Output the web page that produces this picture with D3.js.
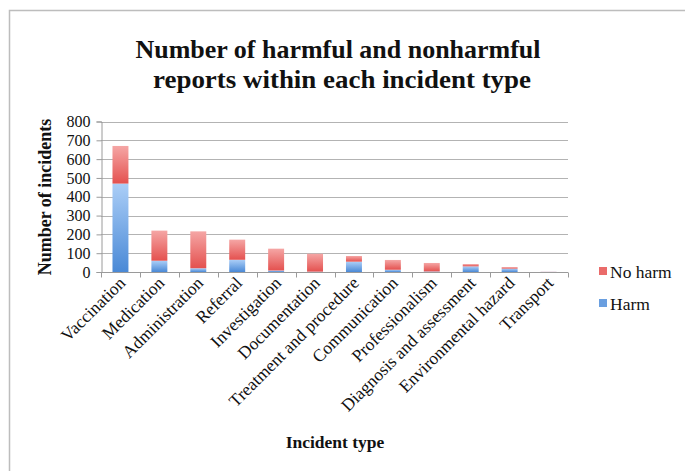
<!DOCTYPE html>
<html>
<head>
<meta charset="utf-8">
<script src="https://cdn.jsdelivr.net/npm/d3@7"></script>
<style>
  html, body { margin: 0; padding: 0; background: #fff; }
  svg { display: block; }
</style>
</head>
<body>
<svg id="chart" width="685" height="471"></svg>
<script>
// Incident types and report counts per harm outcome
const categories = [
  "Vaccination", "Medication", "Administration", "Referral", "Investigation",
  "Documentation", "Treatment and procedure", "Communication", "Professionalism",
  "Diagnosis and assessment", "Environmental hazard", "Transport"
];
const harm   = [470, 60, 20, 65, 8, 2, 55, 12, 3, 30, 18, 1];
const noHarm = [200, 160, 196, 107, 116, 95, 30, 52, 45, 12, 8, 1];
const seriesNames = ["Harm", "No harm"];
const yTicks = [0, 100, 200, 300, 400, 500, 600, 700, 800];

const svg = d3.select("#chart");
const serif = "'Liberation Serif', 'DejaVu Serif', serif";

// Outer chart frame
svg.append("rect")
  .attr("x", 9.5).attr("y", 10.5)
  .attr("width", 700).attr("height", 500)
  .attr("fill", "#fff").attr("stroke", "#bdbdbd").attr("stroke-width", 1.5);

// Vertical gradients for the bar fills
const defs = svg.append("defs");
function grad(id, top, bottom) {
  const g = defs.append("linearGradient").attr("id", id)
    .attr("x1", 0).attr("y1", 0).attr("x2", 0).attr("y2", 1);
  g.append("stop").attr("offset", "0%").attr("stop-color", top);
  g.append("stop").attr("offset", "100%").attr("stop-color", bottom);
}
grad("gHarm", "#abcef7", "#4a89d6");
grad("gNoHarm", "#f5a6a5", "#e4514f");
const fills = { "Harm": "url(#gHarm)", "No harm": "url(#gNoHarm)" };
const swatch = { "Harm": "#6a9fe0", "No harm": "#ea6b6a" };

const plot = { left: 101, right: 568, top: 121.5, bottom: 272 };

const x = d3.scaleBand().domain(categories)
  .range([plot.left, plot.right]).paddingInner(0.59).paddingOuter(0.295);
const y = d3.scaleLinear().domain([0, 800]).range([plot.bottom, plot.top]);

// Horizontal gridlines
svg.append("g").selectAll("line").data(yTicks.filter(d => d > 0)).join("line")
  .attr("x1", plot.left).attr("x2", plot.right)
  .attr("y1", d => Math.round(y(d)) + 0.5).attr("y2", d => Math.round(y(d)) + 0.5)
  .attr("stroke", "#b3b3b3").attr("stroke-width", 1.2);

// Stacked bars
const rows = categories.map((c, i) => ({ cat: c, "Harm": harm[i], "No harm": noHarm[i] }));
const stacked = d3.stack().keys(seriesNames)(rows);
svg.append("g").selectAll("g").data(stacked).join("g")
  .attr("fill", d => fills[d.key])
  .selectAll("rect").data(d => d).join("rect")
  .attr("x", d => x(d.data.cat))
  .attr("width", x.bandwidth())
  .attr("y", d => y(d[1]))
  .attr("height", d => Math.max(0, y(d[0]) - y(d[1])));

// Y axis
const yAxis = svg.append("g")
  .attr("transform", `translate(${plot.left + 0.5},0)`)
  .call(d3.axisLeft(y).tickValues(yTicks).tickSize(5).tickPadding(6));
yAxis.select(".domain").attr("stroke", "#9a9a9a");
yAxis.selectAll(".tick line").attr("stroke", "#9a9a9a");
yAxis.selectAll(".tick text")
  .attr("font-family", serif).attr("font-size", 16).attr("fill", "#111");

// X axis with tick marks at category boundaries
const xAxisG = svg.append("g").attr("transform", `translate(0,${plot.bottom + 0.5})`);
xAxisG.append("line").attr("x1", plot.left).attr("x2", plot.right)
  .attr("stroke", "#9a9a9a");
const step = x.step();
xAxisG.selectAll("line.tk").data(d3.range(categories.length + 1)).join("line")
  .attr("class", "tk")
  .attr("x1", i => Math.round(plot.left + i * step) + 0.5)
  .attr("x2", i => Math.round(plot.left + i * step) + 0.5)
  .attr("y1", 0).attr("y2", 5).attr("stroke", "#9a9a9a");

// Rotated category labels
svg.append("g").selectAll("text").data(categories).join("text")
  .attr("transform", d => `translate(${x(d) + x.bandwidth() / 2 + 6},${plot.bottom + 12}) rotate(-45)`)
  .attr("text-anchor", "end")
  .attr("font-family", serif).attr("font-size", 17.5).attr("fill", "#111")
  .text(d => d);

// Title (two centred lines)
const titleLines = [
  { text: "Number of harmful and nonharmful", cx: 338, y: 58, len: 405 },
  { text: "reports within each incident type", cx: 342, y: 88, len: 378 }
];
svg.append("g").selectAll("text").data(titleLines).join("text")
  .attr("x", d => d.cx).attr("y", d => d.y)
  .attr("text-anchor", "middle")
  .attr("textLength", d => d.len).attr("lengthAdjust", "spacingAndGlyphs")
  .attr("font-family", serif).attr("font-weight", "bold")
  .attr("font-size", 26).attr("fill", "#111")
  .text(d => d.text);

// Axis titles
svg.append("text")
  .attr("transform", "translate(51,197) rotate(-90)")
  .attr("text-anchor", "middle")
  .attr("font-family", serif).attr("font-weight", "bold").attr("font-size", 18)
  .attr("fill", "#111").text("Number of incidents");
svg.append("text")
  .attr("x", 335).attr("y", 448).attr("text-anchor", "middle")
  .attr("font-family", serif).attr("font-weight", "bold").attr("font-size", 17.5)
  .attr("fill", "#111").text("Incident type");

// Legend (No harm listed above Harm)
const legend = svg.append("g").selectAll("g").data(["No harm", "Harm"]).join("g")
  .attr("transform", (d, i) => `translate(599,${273 + i * 32})`);
legend.append("rect").attr("x", 0).attr("y", -6).attr("width", 8).attr("height", 8)
  .attr("fill", d => swatch[d]);
legend.append("text").attr("x", 11).attr("y", 5)
  .attr("font-family", serif).attr("font-size", 17.5).attr("fill", "#111")
  .text(d => d);
</script>
</body>
</html>
